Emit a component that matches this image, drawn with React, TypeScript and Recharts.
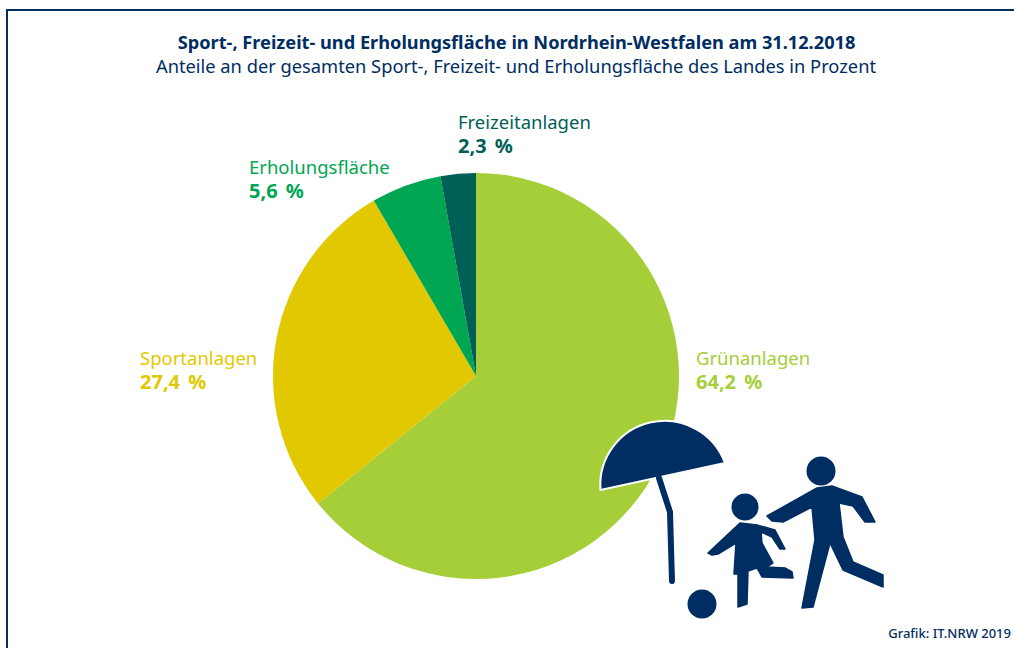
import { PieChart, Pie, Cell } from "recharts"

const NAVY = "#002d62"
const FONT = "'Noto Sans', sans-serif"

const TITLE = "Sport-, Freizeit- und Erholungsfläche in Nordrhein-Westfalen am 31.12.2018"
const SUBTITLE = "Anteile an der gesamten Sport-, Freizeit- und Erholungsfläche des Landes in Prozent"
const SOURCE = "Grafik: IT.NRW 2019"

const CATEGORIES = ["Grünanlagen", "Sportanlagen", "Erholungsfläche", "Freizeitanlagen"]
// slice sizes as drawn: the Freizeitanlagen wedge is wider than its printed 2,3 %
const VALUES = [64.2, 27.4, 5.6, 2.8]
const VALUE_LABELS = ["64,2 %", "27,4 %", "5,6 %", "2,3 %"]

const COLORS = ["#a6ce39", "#e2c800", "#00a651", "#005f56"]
// text anchor of each slice label
const LABEL_X = [696, 140, 249, 458]
const LABEL_Y = [365, 365, 174, 129]

const data = CATEGORIES.map((name, i) => ({ name, value: VALUES[i] }))

const renderLabel = ({ index }: any) => (
  <text x={LABEL_X[index]} y={LABEL_Y[index]} fill={COLORS[index]} fontFamily={FONT} fontSize={18.5}>
    <tspan x={LABEL_X[index]}>{CATEGORIES[index]}</tspan>
    <tspan x={LABEL_X[index]} dy={24} fontWeight={700} fontSize={20} wordSpacing={3}>{VALUE_LABELS[index]}</tspan>
  </text>
)

// decorative pictogram, not data
const FamilyIcon = () => (
  <svg width={1014} height={648} style={{ position: "absolute", left: 0, top: 0 }}>
    <g fill={NAVY}>
      <path d="M600.5 490 A64.3 64.3 0 0 1 725 463 Z" stroke="#fff" strokeWidth={2} />
      <polyline points="659,478 670,512 672,581" fill="none" stroke={NAVY} strokeWidth={6} strokeLinecap="round" />
      <circle cx={702} cy={604} r={14.5} />
      <circle cx={745} cy={507} r={13.5} />
      <circle cx={821} cy={471} r={14.5} />
      <g stroke={NAVY} strokeWidth={1.5} strokeLinejoin="round">
        <polygon points="740,523 708,553 712,555 718,554 736,543 734,574 738,574 738,607 747,604 748,571 757,568 762,577 793,578 792,572 785,568 767,567 773,563 762,543 761,532 772,537 780,549 785,549 775,530 757,525" />
        <polygon points="817,488 767,516 772,521 783,522 812,507 815,540 802,608 813,607 830,543 843,570 883,587 883,575 853,562 843,537 839,503 853,506 865,522 875,522 862,497 832,486" />
      </g>
    </g>
  </svg>
)

export default function App() {
  return (
    <div style={{ position: "absolute", left: 0, top: 0, width: 1014, height: 648, overflow: "hidden", background: "#fff" }}>
      <div style={{ position: "absolute", left: 6, top: 9, right: 0, bottom: 0, borderLeft: `2px solid ${NAVY}`, borderTop: `2px solid ${NAVY}` }} />
      <div style={{ position: "absolute", left: 0, width: 1033, top: 30, textAlign: "center", fontFamily: FONT, color: NAVY, fontSize: 18.2, fontWeight: 700, lineHeight: "24px", whiteSpace: "nowrap" }}>
        {TITLE}
      </div>
      <div style={{ position: "absolute", left: 0, width: 1032, top: 54, textAlign: "center", fontFamily: FONT, color: NAVY, fontSize: 18.3, lineHeight: "24px", whiteSpace: "nowrap" }}>
        {SUBTITLE}
      </div>
      <div style={{ position: "absolute", left: 0, top: 0 }}>
        <PieChart width={1014} height={648} margin={{ top: 0, right: 0, bottom: 0, left: 0 }}>
          <Pie
            data={data}
            dataKey="value"
            cx={476}
            cy={376}
            outerRadius={203}
            startAngle={90}
            endAngle={-270}
            stroke="none"
            label={renderLabel}
            labelLine={false}
            isAnimationActive={false}
          >
            {data.map((d, i) => (
              <Cell key={d.name} fill={COLORS[i]} />
            ))}
          </Pie>
        </PieChart>
      </div>
      <FamilyIcon />
      <div style={{ position: "absolute", right: 3, top: 624, fontFamily: FONT, color: NAVY, fontSize: 13, fontWeight: 500, whiteSpace: "nowrap" }}>
        {SOURCE}
      </div>
    </div>
  )
}
